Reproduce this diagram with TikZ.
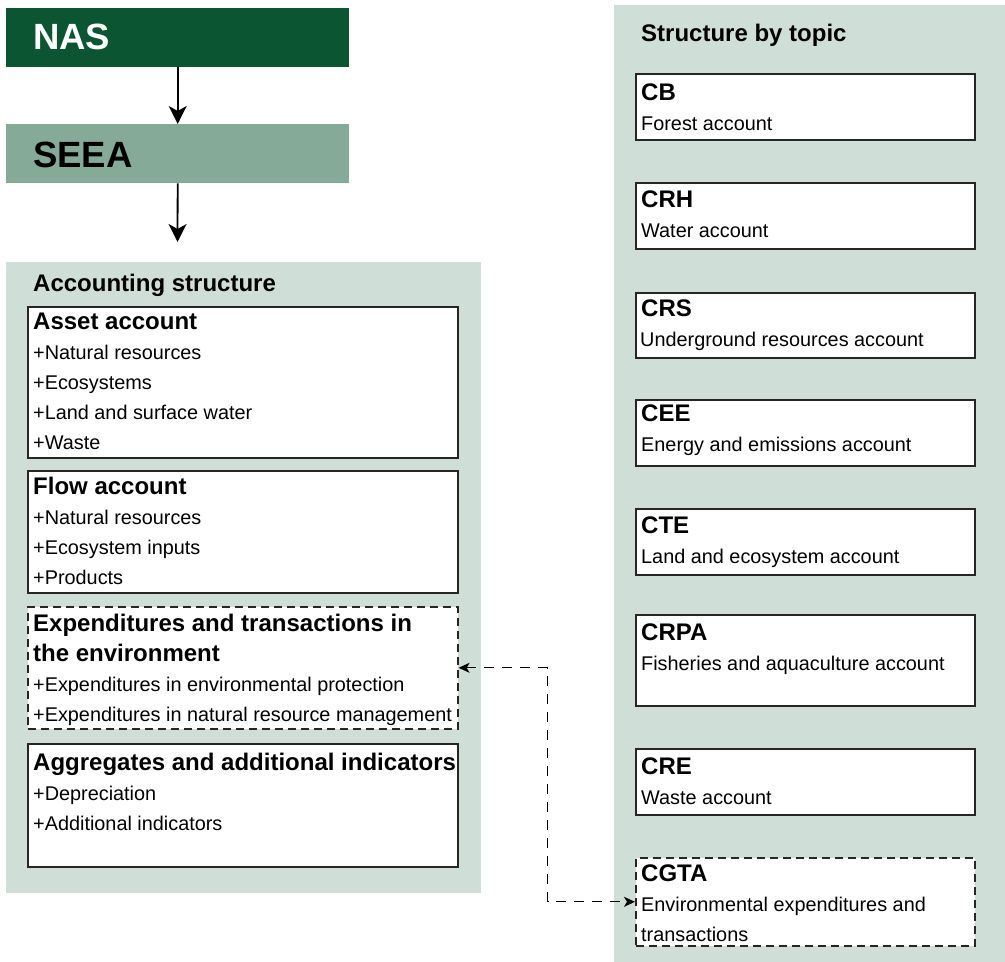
\documentclass[tikz,border=0pt]{standalone}
\usepackage{fontspec}
\setmainfont{Liberation Sans}
\usetikzlibrary{arrows.meta}
\definecolor{nasgreen}{HTML}{0B5533}
\definecolor{seeagreen}{HTML}{85AA98}
\definecolor{panelgreen}{HTML}{CFDED7}
\newcommand{\bodyfont}{\fontsize{19.85}{30}\selectfont}
\newcommand{\ttl}[1]{{\fontsize{24}{30}\selectfont\bfseries #1}}
\newcommand{\lns}[1]{\begin{tabular}[t]{@{}l@{}}#1\end{tabular}}
\begin{document}
\begin{tikzpicture}[x=1pt,y=-1pt,
  panel/.style={fill=panelgreen, draw=none, inner sep=0, anchor=north west},
  hdr/.style={draw=none, inner sep=0, anchor=north west, minimum width=343pt, minimum height=59pt},
  box/.style={draw=black!85, line width=1.6pt, fill=white, inner sep=0, anchor=north west},
  dbox/.style={box, dash pattern=on 8pt off 5pt},
  lbox/.style={box, minimum width=430pt},
  rbox/.style={box, minimum width=339pt},
  txt/.style={anchor=base west, inner sep=0, font=\bodyfont},
  bigtxt/.style={anchor=base west, inner sep=0, font=\fontsize{36.5}{40}\selectfont\bfseries},
  arr/.style={line width=1.8pt, -{Stealth[length=18pt,width=18pt,inset=5pt]}},
  dconn/.style={line width=1.3pt, dash pattern=on 10pt off 8pt, {Stealth[length=11pt,width=10pt,inset=3pt]}-{Stealth[length=11pt,width=10pt,inset=3pt]}}
]
\useasboundingbox (0,0) rectangle (1005,962);

% top-left headers
\node[hdr, fill=nasgreen] (nas) at (6,8) {};
\node[bigtxt, text=white] (nast) at (33,49) {NAS};
\node[hdr, fill=seeagreen] (seea) at (6,124) {};
\node[bigtxt, text=black] (seeat) at (33,167) {SEEA};
\coordinate (acc) at (177.5,242);
\draw[arr] (nas.south) -- (seea.north);
\draw[arr] (seea.south) -- (acc);

% left panel
\node[panel, minimum width=475pt, minimum height=631pt] (lpanel) at (6,262) {};
\node[txt] (lptitle) at (33,291) {\ttl{Accounting structure}};

\node[lbox, minimum height=151pt] (asset) at (27,306) {};
\node[txt] (assett) at ([shift={(6,23)}]asset.north west) {\lns{\ttl{Asset account}\\+Natural resources\\+Ecosystems\\+Land and surface water\\+Waste}};

\node[lbox, minimum height=122pt] (flow) at (27,470) {};
\node[txt] (flowt) at ([shift={(6,24)}]flow.north west) {\lns{\ttl{Flow account}\\+Natural resources\\+Ecosystem inputs\\+Products}};

\node[dbox, minimum width=430pt, minimum height=122pt] (etb) at (27,606) {};
\node[txt] (etbt) at ([shift={(6,25)}]etb.north west) {\lns{\ttl{Expenditures and transactions in}\\\ttl{the environment}\\+Expenditures in environmental protection\\+Expenditures in natural resource management}};

\node[lbox, minimum height=123pt] (agg) at (27,743) {};
\node[txt] (aggt) at ([shift={(6,27)}]agg.north west) {\lns{\ttl{Aggregates and additional indicators}\\+Depreciation\\+Additional indicators}};

% right panel
\node[panel, minimum width=391pt, minimum height=957pt] (rpanel) at (614,5) {};
\node[txt] (rptitle) at (641,41) {\ttl{Structure by topic}};

\node[rbox, minimum height=66pt] (cb) at (635,73) {};
\node[txt] (cbt) at ([shift={(6,27)}]cb.north west) {\lns{\ttl{CB}\\Forest account}};

\node[rbox, minimum height=66pt] (crh) at (635,182) {};
\node[txt] (crht) at ([shift={(6,25)}]crh.north west) {\lns{\ttl{CRH}\\Water account}};

\node[rbox, minimum height=65pt] (crs) at (635,292) {};
\node[txt] (crst) at ([shift={(6,24)}]crs.north west) {\lns{\ttl{CRS}\\\hspace{-1pt}Underground resources account}};

\node[rbox, minimum height=66pt] (cee) at (635,399) {};
\node[txt] (ceet) at ([shift={(6,22)}]cee.north west) {\lns{\ttl{CEE}\\Energy and emissions account}};

\node[rbox, minimum height=66pt] (cte) at (635,508) {};
\node[txt] (ctet) at ([shift={(6,25)}]cte.north west) {\lns{\ttl{CTE}\\Land and ecosystem account}};

\node[rbox, minimum height=91pt] (crpa) at (635,614) {};
\node[txt] (crpat) at ([shift={(6,26)}]crpa.north west) {\lns{\ttl{CRPA}\\Fisheries and aquaculture account}};

\node[rbox, minimum height=66pt] (cre) at (635,748) {};
\node[txt] (cret) at ([shift={(6,26)}]cre.north west) {\lns{\ttl{CRE}\\Waste account}};

\node[dbox, minimum width=339pt, minimum height=88pt] (cgta) at (635,857) {};
\node[txt] (cgtat) at ([shift={(6,24)}]cgta.north west) {\lns{\ttl{CGTA}\\Environmental expenditures and\\transactions}};

% dashed connector
\draw[dconn] (etb.east) -- ([xshift=89pt]etb.east) |- (cgta.west);
\end{tikzpicture}
\end{document}
